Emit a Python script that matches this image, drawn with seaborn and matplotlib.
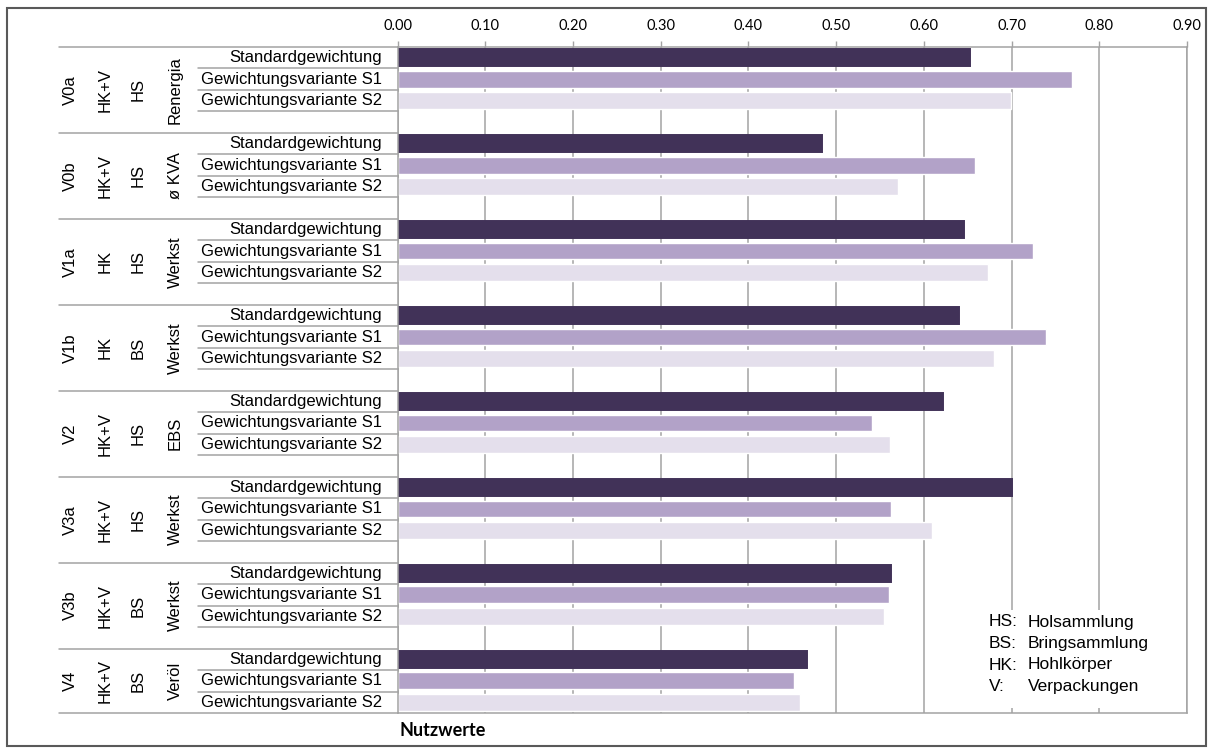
import matplotlib
matplotlib.use("Agg")
import matplotlib.pyplot as plt
import numpy as np
import pandas as pd
import seaborn as sns
from matplotlib.patches import Rectangle

# ---- data -------------------------------------------------------------
variants = ["V0a", "V0b", "V1a", "V1b", "V2", "V3a", "V3b", "V4"]
scope = ["HK+V", "HK+V", "HK", "HK", "HK+V", "HK+V", "HK+V", "HK+V"]
collection = ["HS", "HS", "HS", "BS", "HS", "HS", "BS", "BS"]
recycler = ["Renergia", "ø KVA", "Werkst", "Werkst", "EBS", "Werkst", "Werkst", "Veröl"]
weightings = ["Standardgewichtung", "Gewichtungsvariante S1", "Gewichtungsvariante S2"]

standard = [0.653, 0.484, 0.646, 0.640, 0.622, 0.700, 0.563, 0.467]
variant_s1 = [0.769, 0.658, 0.725, 0.739, 0.541, 0.563, 0.560, 0.452]
variant_s2 = [0.699, 0.571, 0.673, 0.680, 0.561, 0.609, 0.555, 0.459]

x_ticks = [0.0, 0.1, 0.2, 0.3, 0.4, 0.5, 0.6, 0.7, 0.8, 0.9]
legend_abbr = ["HS:", "BS:", "HK:", "V:"]
legend_text = ["Holsammlung", "Bringsammlung", "Hohlkörper", "Verpackungen"]

colors = ["#413258", "#b2a2c8", "#e4dfec"]

# ---- tidy table with spacer rows between the variants ----------------
series = [standard, variant_s1, variant_s2]
records, order = [], []
for g, v in enumerate(variants):
    for j, w in enumerate(weightings):
        key = f"{v}|{j}"
        order.append(key)
        records.append({"key": key, "weighting": w, "value": series[j][g]})
    if g < len(variants) - 1:
        order.append(f"{v}|gap")
df = pd.DataFrame(records)

# ---- figure -----------------------------------------------------------
sns.set_theme(style="white")
plt.rcParams["font.family"] = ["Liberation Sans", "DejaVu Sans"]
plt.rcParams["text.color"] = "black"
plt.rcParams["xtick.labelcolor"] = "black"

FW, FH = 1214, 753
fig = plt.figure(figsize=(FW / 100, FH / 100), dpi=100)
L, R, T, B = 397.5, 1187, 47, 713
ax = fig.add_axes([L / FW, 1 - B / FH, (R - L) / FW, (B - T) / FH])

sns.barplot(data=df, x="value", y="key", hue="weighting", order=order,
            hue_order=weightings, palette=colors, dodge=False, width=0.78,
            orient="h", errorbar=None, saturation=1, legend=False, ax=ax)

# the standard weighting bars are drawn with a thin outline of their own colour
for bar in ax.containers[0]:
    bar.set_edgecolor(colors[0])
    bar.set_linewidth(1.4)

grey = "#a3a3a3"
ax.set_xticks(x_ticks)
ax.set_xticklabels([f"{t:.2f}" for t in x_ticks], family="Lato", fontsize=10.5,
                   color="black")
ax.xaxis.tick_top()
ax.tick_params(axis="x", direction="out", length=4, width=1, color=grey, pad=6)
ax.set_yticks([])
ax.set_xlabel("")
ax.set_ylabel("")
ax.set_axisbelow(True)
ax.grid(axis="x", color=grey, linewidth=1.1)
for s in ax.spines.values():
    s.set_visible(True)
    s.set_color(grey)
    s.set_linewidth(1.1)

# ---- category table on the left --------------------------------------
yt = ax.get_yaxis_transform()


def fx(px):
    return (px - L) / (R - L)


n = len(variants)
for g in range(n):
    base = 4 * g
    center = base + (1.5 if g < n - 1 else 1.0)
    for px, txt in zip([70, 105.5, 138, 175],
                       [variants[g], scope[g], collection[g], recycler[g]]):
        ax.text(fx(px), center, txt, rotation=90, ha="center", va="center",
                fontsize=12, color="black", transform=yt, clip_on=False)
    for j, w in enumerate(weightings):
        ax.text(fx(382), base + j, w, ha="right", va="center", fontsize=12,
                color="black", transform=yt, clip_on=False)
    # separators
    ax.plot([fx(59), 0], [base - 0.5] * 2, color=grey, lw=1.1,
            transform=yt, clip_on=False, scalex=False, scaley=False)
    for j in range(3):
        start = 59 if (g == n - 1 and j == 2) else 198
        ax.plot([fx(start), 0], [base + j + 0.5] * 2, color=grey, lw=1.1,
                transform=yt, clip_on=False, scalex=False, scaley=False)

ax.set_xlim(0, 0.9)
ax.set_ylim(len(order) - 0.5, -0.5)

# ---- abbreviation key ---------------------------------------------------
def ay(py):
    return (B - py) / (B - T)


ax.add_patch(Rectangle((fx(982), ay(708)), fx(1180) - fx(982), ay(610) - ay(708),
                       transform=ax.transAxes, facecolor="white",
                       edgecolor="none", zorder=1))
for i, (a, t) in enumerate(zip(legend_abbr, legend_text)):
    py = 622 + i * 21.5
    ax.text(fx(989), ay(py), a, ha="left", va="center", fontsize=12.5,
            color="black", transform=ax.transAxes, zorder=3)
    ax.text(fx(1028), ay(py), t, ha="left", va="center", fontsize=12.5,
            color="black", transform=ax.transAxes, zorder=3)

fig.text(400 / FW, 1 - 731 / FH, "Nutzwerte", ha="left", va="center",
         family="Lato", fontweight="bold", fontsize=13, color="black")

# chart border
fig.patches.append(Rectangle((7 / FW, 1 - 746 / FH), 1199 / FW, 738 / FH,
                             transform=fig.transFigure, fill=False,
                             edgecolor="#595959", linewidth=1.5))

fig.savefig("out.png", dpi=100)
